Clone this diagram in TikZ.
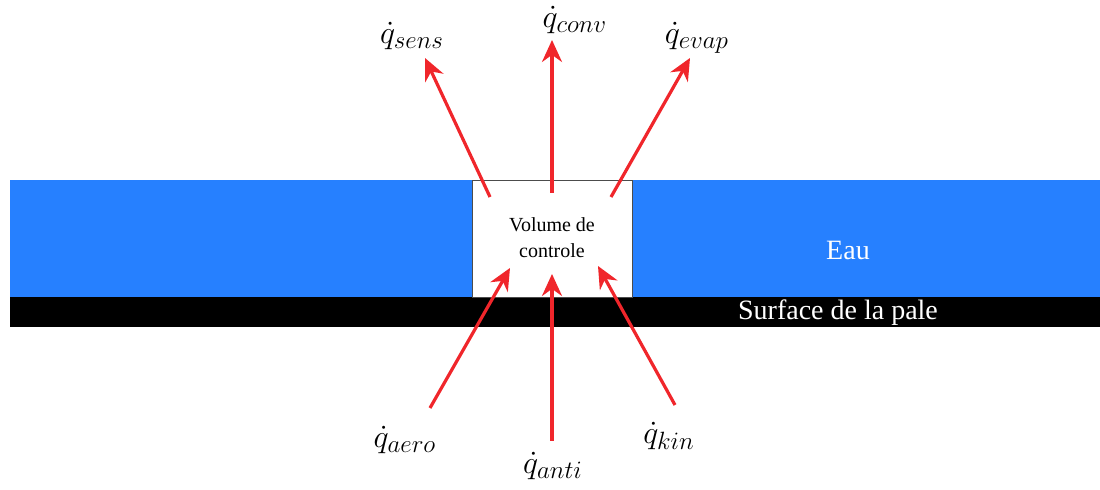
\documentclass[tikz,border=0pt]{standalone}
\usepackage{fix-cm}
\usepackage{amsmath}
\usepackage{fontspec}
\setmainfont{Liberation Serif}
\usetikzlibrary{arrows.meta,positioning}
\definecolor{eau}{HTML}{2680FF}
\definecolor{flux}{HTML}{F0262B}
\DeclareMathSizes{16}{16}{12.5}{10}

\tikzset{
  fluxarrow/.style={-{Stealth[length=11pt,width=10pt]},flux,line width=1.6pt},
  fluxlabel/.style={font=\fontsize{16}{18}\selectfont,inner sep=1pt}
}

\begin{document}
\begin{tikzpicture}[x=0.5pt,y=-0.5pt]
      \useasboundingbox (0,0) rectangle (1100,490);

      % water film and blade surface
      \fill[eau] (10,180) rectangle (1100,297);
      \fill[black] (10,297) rectangle (1100,327);

      % control volume
      \node[draw=black!70,fill=white,line width=0.6pt,minimum width=80pt,minimum height=58.5pt,
            inner sep=0pt,anchor=north west] (vol) at (472,180) {};
      \node[align=center,font=\rmfamily\fontsize{10}{13}\selectfont] (voltext) at (552,238) {Volume de\\controle};

      \node[white,font=\fontsize{14}{16}\selectfont] (eaulbl) at (848,250) {Eau};
      \node[white,font=\fontsize{14}{16}\selectfont] (pale) at (838,313) {Surface de la pale};

      % outgoing fluxes
      \coordinate (sensA) at (490,197);
      \coordinate (sensB) at (425,58);
      \coordinate (convA) at (552,193);
      \coordinate (convB) at (552,40);
      \coordinate (evapA) at (611,197);
      \coordinate (evapB) at (690,58);

      % incoming fluxes
      \coordinate (aeroA) at (430,408);
      \coordinate (aeroB) at (510,268);
      \coordinate (antiA) at (552,441);
      \coordinate (antiB) at (552,274);
      \coordinate (kinA) at (675,405);
      \coordinate (kinB) at (598,266);

      \draw[fluxarrow] (sensA) -- (sensB);
      \draw[fluxarrow] (convA) -- (convB);
      \draw[fluxarrow] (evapA) -- (evapB);
      \draw[fluxarrow] (aeroA) -- (aeroB);
      \draw[fluxarrow] (antiA) -- (antiB);
      \draw[fluxarrow] (kinA) -- (kinB);

      % labels
      \node[fluxlabel] (qsens) at (412,36) {$\dot{q}_{sens}$};
      \node[fluxlabel] (qconv) at (575,20) {$\dot{q}_{conv}$};
      \node[fluxlabel] (qevap) at (697,38) {$\dot{q}_{evap}$};
      \node[fluxlabel] (qaero) at (405,440) {$\dot{q}_{aero}$};
      \node[fluxlabel] (qanti) at (553,466) {$\dot{q}_{anti}$};
      \node[fluxlabel] (qkin) at (669,436) {$\dot{q}_{kin}$};
    \end{tikzpicture}
\end{document}
